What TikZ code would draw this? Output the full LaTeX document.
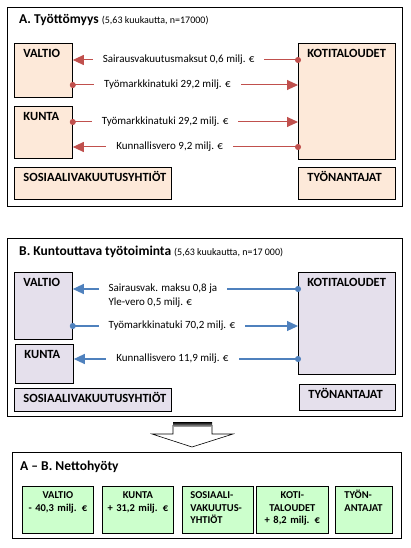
\documentclass[tikz,border=0pt]{standalone}
\usepackage{fontspec}
\setmainfont{Carlito}
\usetikzlibrary{arrows.meta}
\definecolor{myRed}{HTML}{C0504D}
\definecolor{myBlue}{HTML}{4F81BD}
\definecolor{myPeach}{HTML}{FDE9D9}
\definecolor{myLilac}{HTML}{E5E0EC}
\definecolor{myGreen}{HTML}{CCFFCC}

\begin{document}
\begin{tikzpicture}[x=1pt, y=-1pt, >={Triangle[length=11pt,width=10pt]}]

  \tikzstyle{FR}=[draw, line width=1pt, anchor=north west, inner sep=0pt]
  \tikzstyle{TI}=[anchor=base west, inner sep=0pt, font=\fontsize{13.5}{15}\selectfont\bfseries]
  \tikzstyle{BOX}=[draw, line width=0.8pt, anchor=north west, inner xsep=9pt, inner ysep=4pt, text height=10.5pt, align=left, font=\fontsize{12.5}{15}\selectfont\bfseries]
  \tikzstyle{CA}=[BOX, fill=myPeach]
  \tikzstyle{CB}=[BOX, fill=myLilac]
  \tikzstyle{CG}=[draw, line width=0.8pt, fill=myGreen, anchor=north west, inner xsep=4pt, inner ysep=3pt, text height=9.5pt, text depth=31.5pt, font=\fontsize{10.5}{12.5}\selectfont\bfseries]
  \tikzstyle{LB}=[fill=white, inner xsep=10pt, inner ysep=1pt, font=\fontsize{11}{14}\selectfont]
  \tikzstyle{AR}=[draw=myRed, line width=1pt, {Circle[length=6pt]}->, shorten <=-3pt]
  \tikzstyle{AB}=[draw=myBlue, line width=1.2pt, {Circle[length=6pt]}->, shorten <=-3pt]

  \useasboundingbox (0,0) rectangle (410,548);

  % A
  \node[FR, minimum width=395pt, minimum height=199pt] at (7,7) (frameA) {};
  \node[TI] at (19,24) (titleA) {A. Työttömyys {\fontsize{10}{12}\selectfont\mdseries (5,63 kuukautta, n=17000)}};

  \node[CA, text width=40pt, text depth=35.5pt] at (14,43) (valtioA) {VALTIO};
  \node[CA, text width=40pt, text depth=33.5pt] at (14,106) (kuntaA) {KUNTA};
  \node[CA, text width=139pt, text depth=13.5pt] at (14,167) (sosA) {SOSIAALIVAKUUTUSYHTIÖT};
  \node[CA, text width=79pt, text depth=97.5pt] at (298,43) (kotiA) {KOTITALOUDET};
  \node[CA, text width=79pt, text depth=13.5pt] at (298,167) (tyoA) {TYÖNANTAJAT};

  \coordinate (a1) at ([yshift=-17pt]kotiA.north west);
  \coordinate (a2) at ([yshift=-42pt]valtioA.north east);
  \coordinate (a3) at ([yshift=-16pt]kuntaA.north east);
  \coordinate (a4) at ([yshift=-104pt]kotiA.north west);

  \draw[AR] (a1) to node[LB, pos=.53] {Sairausvakuutusmaksut 0,6 milj. €} (a1 -| valtioA.east);
  \draw[AR] (a2) to node[LB, pos=.42] {Työmarkkinatuki 29,2 milj. €} (a2 -| kotiA.west);
  \draw[AR] (a3) to node[LB, pos=.41] {Työmarkkinatuki 29,2 milj. €} (a3 -| kotiA.west);
  \draw[AR] (a4) to node[LB, pos=.57] {Kunnallisvero 9,2 milj. €} (a4 -| kuntaA.east);

  % B
  \node[FR, minimum width=395pt, minimum height=178pt] at (7,238) (frameB) {};
  \node[TI] at (19,255) (titleB) {B. Kuntouttava työtoiminta {\fontsize{10}{12}\selectfont\mdseries (5,63 kuukautta, n=17 000)}};

  \node[CB, text width=40pt, text depth=48.5pt] at (14,272) (valtioB) {VALTIO};
  \node[CB, text width=40pt, text depth=20.5pt] at (15,344) (kuntaB) {KUNTA};
  \node[CB, text width=139pt, text depth=4.5pt] at (14,388) (sosB) {SOSIAALIVAKUUTUSYHTIÖT};
  \node[CB, text width=79pt, text depth=83.5pt] at (298,272) (kotiB) {KOTITALOUDET};
  \node[CB, text width=78pt, text depth=7.5pt] at (299,384) (tyoB) {TYÖNANTAJAT};

  \coordinate (b1) at ([yshift=-17pt]kotiB.north west);
  \coordinate (b2) at ([yshift=-54pt]valtioB.north east);
  \coordinate (b3) at ([yshift=-87pt]kotiB.north west);

  \draw[AB] (b1) to node[LB, pos=.6, yshift=-7pt, align=left] {Sairausvak. maksu 0,8 ja\\Yle-vero 0,5 milj. €} (b1 -| valtioB.east);
  \draw[AB] (b2) to node[LB, pos=.44] {Työmarkkinatuki 70,2 milj. €} (b2 -| kotiB.west);
  \draw[AB] (b3) to node[LB, pos=.56] {Kunnallisvero 11,9 milj. €} (b3 -| kuntaB.east);

  % big arrow down
  \draw[fill=white, line width=0.6pt] (173,425) -- (173,434) -- (152,434) -- (192,447) -- (233,434) -- (212,434) -- (212,425);
  \shade[top color=black, bottom color=gray!80] (173,422) rectangle (212,426);

  % A - B
  \node[FR, minimum width=389pt, minimum height=86pt] at (12,452) (frameC) {};
  \node[TI] at (20,470) (titleC) {A – B. Nettohyöty};

  \node[CG, text width=63pt, align=center] at (22,486) (valtioC) {VALTIO\\- 40,3 milj. €};
  \node[CG, text width=63pt, align=center] at (102,486) (kuntaC) {KUNTA\\+ 31,2 milj. €};
  \node[CG, text width=55pt, align=left, inner xsep=8pt] at (182,486) (sosC) {SOSIAALI-\\VAKUUTUS-\\YHTIÖT};
  \node[CG, text width=64pt, align=center] at (256,486) (kotiC) {KOTI-\\TALOUDET\\+ 8,2 milj. €};
  \node[CG, text width=39pt, align=left, inner xsep=9pt] at (335,486) (tyoC) {TYÖN-\\ANTAJAT};

\end{tikzpicture}
\end{document}
